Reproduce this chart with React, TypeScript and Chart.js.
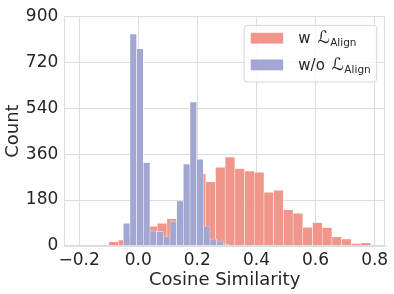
import React, { useEffect, useRef } from "react";
import { Chart, registerables } from "chart.js";

Chart.register(...registerables);

// Bin centers (cosine similarity) and counts
const withAlignBins = [
  -0.0834, -0.0506, -0.0177, 0.0151, 0.048, 0.0808, 0.1136, 0.1465, 0.1793,
  0.2122, 0.245, 0.2778, 0.3107, 0.3435, 0.3764, 0.4092, 0.442, 0.4749,
  0.5077, 0.5405, 0.5734, 0.6062, 0.6391, 0.6719, 0.7047, 0.7376, 0.7704,
];
const withAlignCounts = [
  17, 23, 40, 55, 77, 89, 107, 150, 220, 283, 252, 308, 348, 303, 294, 289,
  210, 218, 142, 128, 73, 92, 72, 36, 27, 10, 13,
];
const withoutAlignBins = [
  -0.0391, -0.0166, 0.006, 0.0286, 0.0511, 0.0737, 0.0962, 0.1188, 0.1414,
  0.1639, 0.1865, 0.2091, 0.2316, 0.2542, 0.2767, 0.2993,
];
const withoutAlignCounts = [
  89, 830, 772, 327, 59, 56, 36, 96, 176, 321, 564, 340, 78, 27, 19, 6,
];

const seriesLabels = ["w ℒ_Align", "w/o ℒ_Align"];
const seriesColors = ["rgb(241,150,138)", "rgb(161,167,210)"];
const xTickValues = [-0.2, 0.0, 0.2, 0.4, 0.6, 0.8];
const yTickValues = [0, 180, 360, 540, 720, 900];
const xRange = [-0.25, 0.835];
const yRange = [0, 900];
const xTitle = "Cosine Similarity";
const yTitle = "Count";

const FONT = "'DejaVu Sans', sans-serif";
const TEXT = "#262626";
const GRID = "#dddddd";

const framePlugin = {
  id: "frame",
  afterDatasetsDraw(chart: any) {
    const { ctx, chartArea } = chart;
    ctx.save();
    ctx.strokeStyle = GRID;
    ctx.lineWidth = 1;
    ctx.strokeRect(
      Math.round(chartArea.left) + 0.5,
      Math.round(chartArea.top) + 0.5,
      Math.round(chartArea.right) - Math.round(chartArea.left) - 1,
      Math.round(chartArea.bottom) - Math.round(chartArea.top) - 1
    );
    ctx.restore();
  },
};

const mathLegendPlugin = {
  id: "mathLegend",
  afterDraw(chart: any) {
    const { ctx, chartArea } = chart;
    const baseFont = `15px ${FONT}`;
    const symFont = `oblique 17px ${FONT}`;
    const subFont = `10.5px ${FONT}`;
    const rows = chart.data.datasets.map((ds: any) => {
      const [main, sub] = String(ds.label).split("_");
      const sym = main.slice(-1);
      const prefix = main.slice(0, -1);
      return { prefix, sym, sub: sub || "", color: ds.backgroundColor };
    });
    ctx.save();
    let textW = 0;
    rows.forEach((r: any) => {
      ctx.font = baseFont;
      r.pw = ctx.measureText(r.prefix).width + 2;
      ctx.font = symFont;
      r.yw = ctx.measureText(r.sym).width;
      ctx.font = subFont;
      const sw = ctx.measureText(r.sub).width;
      textW = Math.max(textW, r.pw + r.yw + 0.5 + sw);
    });
    const padL = 6.6;
    const padR = 6.0;
    const swW = 32.4;
    const swH = 10.8;
    const gap = 15.2;
    const rowH = 26.7;
    const firstRow = 12.8;
    const boxH = 56.6;
    const right = chartArea.right - 8.3;
    const top = chartArea.top + 9.2;
    const boxW = padL + swW + gap + textW + padR;
    const left = right - boxW;

    const r = 3;
    ctx.beginPath();
    ctx.moveTo(left + r, top);
    ctx.lineTo(right - r, top);
    ctx.quadraticCurveTo(right, top, right, top + r);
    ctx.lineTo(right, top + boxH - r);
    ctx.quadraticCurveTo(right, top + boxH, right - r, top + boxH);
    ctx.lineTo(left + r, top + boxH);
    ctx.quadraticCurveTo(left, top + boxH, left, top + boxH - r);
    ctx.lineTo(left, top + r);
    ctx.quadraticCurveTo(left, top, left + r, top);
    ctx.closePath();
    ctx.fillStyle = "rgba(255,255,255,0.8)";
    ctx.fill();
    ctx.strokeStyle = "#d6d6d6";
    ctx.lineWidth = 1;
    ctx.stroke();

    rows.forEach((row: any, i: number) => {
      const cy = top + firstRow + i * rowH;
      ctx.fillStyle = row.color;
      ctx.fillRect(left + padL, cy - swH / 2, swW, swH);
      const tx = left + padL + swW + gap;
      ctx.fillStyle = TEXT;
      ctx.textBaseline = "alphabetic";
      ctx.textAlign = "left";
      ctx.font = baseFont;
      ctx.fillText(row.prefix, tx, cy + 5);
      ctx.font = symFont;
      ctx.fillText(row.sym, tx + row.pw, cy + 5);
      ctx.font = subFont;
      ctx.fillText(row.sub, tx + row.pw + row.yw + 0.5, cy + 8.2);
    });
    ctx.restore();
  },
};

export default function App() {
  const canvasRef = useRef<HTMLCanvasElement | null>(null);

  useEffect(() => {
    const canvas = canvasRef.current;
    if (!canvas) return;
    const chart = new Chart(canvas, {
      type: "bar",
      data: {
        datasets: [
          {
            label: seriesLabels[0],
            data: withAlignBins.map((b, i) => ({ x: b, y: withAlignCounts[i] })),
            backgroundColor: seriesColors[0],
            borderColor: "rgba(255,255,255,0.85)",
            borderWidth: 0.55,
            borderSkipped: "start",
            xAxisID: "x",
            order: 1,
            grouped: false,
            barPercentage: 1,
            categoryPercentage: 1,
          } as any,
          {
            label: seriesLabels[1],
            data: withoutAlignBins.map((b, i) => ({ x: b, y: withoutAlignCounts[i] })),
            backgroundColor: seriesColors[1],
            borderColor: "rgba(255,255,255,0.85)",
            borderWidth: 0.55,
            borderSkipped: "start",
            xAxisID: "x2",
            order: 0,
            grouped: false,
            barPercentage: 1,
            categoryPercentage: 1,
          } as any,
        ],
      },
      options: {
        animation: false,
        responsive: false,
        devicePixelRatio: 1,
        layout: { padding: { top: 11.5, right: 9, left: 0, bottom: 0 } },
        plugins: {
          legend: { display: false },
          tooltip: { enabled: false },
        },
        scales: {
          x: {
            type: "linear",
            position: "bottom",
            min: xRange[0],
            max: xRange[1],
            offset: false,
            grid: { color: GRID, lineWidth: 1, drawTicks: false, offset: false },
            border: { display: true, color: GRID },
            afterBuildTicks: (scale: any) => {
              scale.ticks = xTickValues.map((v) => ({ value: v }));
            },
            afterFit: (scale: any) => {
              scale.height = 48;
            },
            ticks: {
              autoSkip: false,
              maxRotation: 0,
              padding: 4,
              color: TEXT,
              font: { family: FONT, size: 17 },
              callback: (v: any) => {
                const n = Number(v);
                return (n < -1e-9 ? "\u2212" : "") + Math.abs(n).toFixed(1);
              },
            },
            title: {
              display: true,
              text: xTitle,
              color: TEXT,
              font: { family: FONT, size: 18 },
              padding: { top: 0, bottom: 3 },
            },
          },
          x2: {
            type: "linear",
            display: false,
            min: xRange[0],
            max: xRange[1],
            offset: false,
            grid: { offset: false },
          },
          y: {
            type: "linear",
            min: yRange[0],
            max: yRange[1],
            grid: { color: GRID, lineWidth: 1, drawTicks: false },
            border: { display: true, color: GRID },
            afterBuildTicks: (scale: any) => {
              scale.ticks = yTickValues.map((v) => ({ value: v }));
            },
            afterFit: (scale: any) => {
              scale.width = 64.3;
            },
            ticks: {
              padding: 6,
              color: TEXT,
              font: { family: FONT, size: 17 },
              callback: (v: any) => String(v),
            },
            title: {
              display: true,
              text: yTitle,
              color: TEXT,
              font: { family: FONT, size: 18 },
              padding: { top: 2.5, bottom: 0 },
            },
          },
        },
      } as any,
      plugins: [framePlugin, mathLegendPlugin],
    });
    return () => chart.destroy();
  }, []);

  return (
    <div style={{ position: "absolute", left: 0, top: 0, width: 394, height: 294, background: "#fff" }}>
      <canvas ref={canvasRef} width={394} height={294} style={{ width: 394, height: 294, display: "block" }} />
    </div>
  );
}
